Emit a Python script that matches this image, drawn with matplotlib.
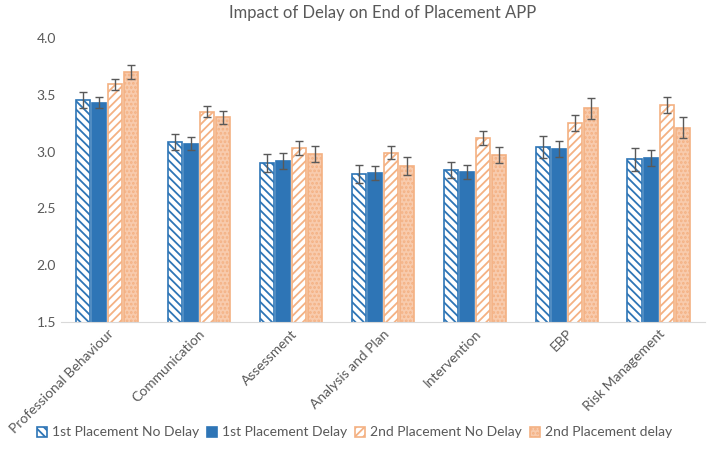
import numpy as np
import matplotlib.pyplot as plt

plt.rcParams['font.family'] = ['Lato', 'DejaVu Sans']
plt.rcParams['hatch.linewidth'] = 1.3

categories = ['Professional Behaviour', 'Communication', 'Assessment', 'Analysis and Plan',
              'Intervention', 'EBP', 'Risk Management']
series = ['1st Placement No Delay', '1st Placement Delay',
          '2nd Placement No Delay', '2nd Placement delay']

first_no_delay = [3.45, 3.08, 2.90, 2.80, 2.84, 3.04, 2.93]
first_delay = [3.43, 3.07, 2.92, 2.81, 2.82, 3.02, 2.94]
second_no_delay = [3.59, 3.35, 3.03, 2.99, 3.12, 3.25, 3.41]
second_delay = [3.70, 3.30, 2.98, 2.87, 2.97, 3.38, 3.21]

err_first_no_delay = [0.07, 0.07, 0.08, 0.08, 0.07, 0.10, 0.10]
err_first_delay = [0.05, 0.06, 0.07, 0.06, 0.06, 0.07, 0.07]
err_second_no_delay = [0.05, 0.05, 0.06, 0.06, 0.06, 0.07, 0.07]
err_second_delay = [0.06, 0.06, 0.07, 0.08, 0.07, 0.09, 0.09]

values = [first_no_delay, first_delay, second_no_delay, second_delay]
errors = [err_first_no_delay, err_first_delay, err_second_no_delay, err_second_delay]

blue = '#2E75B6'
orange = '#F4B183'
styles = [
    dict(facecolor='white', edgecolor=blue, hatch='\\\\\\\\'),
    dict(facecolor=blue, edgecolor=blue, hatch=None),
    dict(facecolor='white', edgecolor=orange, hatch='////'),
    dict(facecolor='#F8CBAD', edgecolor=orange, hatch='....'),
]

fig = plt.figure(figsize=(7.09, 4.51), dpi=100)
ax = fig.add_axes([0.086, 0.286, 0.908, 0.63])

x = np.arange(len(categories))
width = 0.155
step = 0.175
for i, (vals, errs, st) in enumerate(zip(values, errors, styles)):
    ax.bar(x + (i - 1.5) * step, vals, width, label=series[i],
           facecolor=st['facecolor'], edgecolor=st['edgecolor'], hatch=st['hatch'],
           linewidth=1.2, yerr=errs, capsize=3,
           error_kw=dict(ecolor='#595959', elinewidth=1, capthick=1))

ax.set_ylim(1.5, 4.0)
ax.set_yticks(np.arange(1.5, 4.01, 0.5))
ax.set_yticklabels([f'{v:.1f}' for v in np.arange(1.5, 4.01, 0.5)])
ax.set_xlim(-0.5, len(categories) - 0.5)
ax.set_xticks(x)
ax.set_xticklabels(categories, rotation=45, ha='right', rotation_mode='anchor')
ax.tick_params(axis='both', length=0, colors='#595959', labelsize=10)
ax.tick_params(axis='x', pad=4)
for s in ['top', 'right', 'left']:
    ax.spines[s].set_visible(False)
ax.spines['bottom'].set_color('#D9D9D9')

ax.set_title('Impact of Delay on End of Placement APP', color='#595959', fontsize=12, pad=14)

fig.legend(loc='lower center', ncol=4, frameon=False, fontsize=10,
           bbox_to_anchor=(0.5, 0.0), handlelength=0.7, handleheight=0.7,
           handletextpad=0.35, columnspacing=0.6, labelcolor='#595959')

fig.savefig('out.png', dpi=100)
